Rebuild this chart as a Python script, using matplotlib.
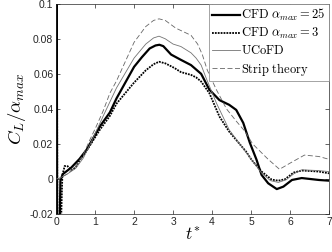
import matplotlib
matplotlib.use("Agg")
import matplotlib.pyplot as plt
from matplotlib.ticker import FuncFormatter

plt.rcParams['mathtext.fontset'] = 'cm'
plt.rcParams['font.family'] = ['Liberation Sans', 'DejaVu Sans']
plt.rcParams['axes.unicode_minus'] = False

# CFD alpha_max = 25 (thick solid)
t_cfd25 = [0, 0.005, 0.03, 0.09, 0.11, 0.17, 0.39, 0.6, 0.78, 0.95, 1.12, 1.38, 1.55, 1.8, 2.0,
           2.2, 2.4, 2.55, 2.65, 2.75, 2.95, 3.2, 3.46, 3.72, 3.93, 4.19, 4.44, 4.62, 4.8, 4.97,
           5.14, 5.27, 5.44, 5.66, 5.83, 6.05, 6.3, 6.74, 7.0]
cl_cfd25 = [0, 0.3, -0.1, -0.03, -0.001, 0.0027, 0.0065, 0.0114, 0.0166, 0.0232, 0.0299, 0.038,
            0.046, 0.056, 0.064, 0.0695, 0.0745, 0.0762, 0.0766, 0.0758, 0.071, 0.068, 0.065,
            0.060, 0.051, 0.045, 0.0423, 0.0394, 0.032, 0.0206, 0.011, 0.0023, -0.0025, -0.0058,
            -0.0044, -0.0006, 0.0005, -0.0006, -0.001]

# CFD alpha_max = 3 (dotted)
t_cfd3 = [0, 0.01, 0.04, 0.12, 0.16, 0.22, 0.3, 0.39, 0.5, 0.6, 0.78, 0.95, 1.12, 1.38, 1.55,
          2.0, 2.3, 2.5, 2.64, 2.8, 3.03, 3.2, 3.46, 3.59, 3.72, 3.93, 4.19, 4.44, 4.88, 5.01,
          5.27, 5.53, 5.7, 5.87, 6.09, 6.3, 6.74, 7.0]
cl_cfd3 = [0, 0.2, -0.1, -0.03, 0.002, 0.0074, 0.0072, 0.005, 0.0065, 0.0105, 0.016, 0.022,
           0.028, 0.036, 0.043, 0.055, 0.062, 0.0655, 0.0669, 0.066, 0.0634, 0.061, 0.0594,
           0.058, 0.0556, 0.049, 0.0356, 0.027, 0.0154, 0.011, 0.0042, -0.0004, -0.001,
           -0.0002, 0.0036, 0.0048, 0.0042, 0.0032]

# UCoFD (thin solid)
t_ucofd = [0, 0.1, 0.3, 0.5, 0.7, 0.9, 1.21, 1.55, 2.0, 2.3, 2.5, 2.64, 2.8, 3.0, 3.2, 3.46,
           3.59, 3.72, 3.85, 4.11, 4.44, 4.88, 5.27, 5.5, 5.7, 5.9, 6.1, 6.3, 6.7, 7.0]
cl_ucofd = [0, 0.0005, 0.003, 0.006, 0.012, 0.021, 0.036, 0.052, 0.069, 0.077, 0.0805, 0.0815,
            0.080, 0.077, 0.0756, 0.072, 0.069, 0.065, 0.0575, 0.0434, 0.028, 0.0149, 0.0034,
            -0.001, -0.002, -0.0005, 0.003, 0.0052, 0.0048, 0.0042]

# Strip theory (dashed)
t_strip = [0, 0.1, 0.3, 0.5, 0.7, 0.86, 1.03, 1.21, 1.38, 1.55, 2.0, 2.3, 2.5, 2.64, 2.8, 3.07,
           3.46, 3.63, 3.75, 3.88, 4.11, 4.37, 4.62, 4.85, 5.04, 5.43, 5.73, 6.0, 6.37, 6.74, 7.0]
cl_strip = [0, 0.0005, 0.003, 0.007, 0.014, 0.022, 0.030, 0.039, 0.049, 0.056, 0.078, 0.087,
            0.0905, 0.0914, 0.0905, 0.0861, 0.082, 0.077, 0.071, 0.062, 0.051, 0.040, 0.033,
            0.027, 0.020, 0.0114, 0.0055, 0.009, 0.0136, 0.0128, 0.0112]

xticks = [0, 1, 2, 3, 4, 5, 6, 7]
yticks = [-0.02, 0, 0.02, 0.04, 0.06, 0.08, 0.1]

fig = plt.figure(figsize=(3.32, 2.52), dpi=100)
ax = fig.add_axes([0.169, 0.151, 0.822, 0.834])

ax.plot(t_cfd25, cl_cfd25, color='k', lw=1.6, label=r'$\mathrm{CFD}\ \alpha_{max} = 25$')
ax.plot(t_cfd3, cl_cfd3, color='k', lw=1.3, ls=(0, (1, 0.6)), label=r'$\mathrm{CFD}\ \alpha_{max} = 3$')
ax.plot(t_ucofd, cl_ucofd, color='0.45', lw=0.6, label=r'$\mathrm{UCoFD}$')
ax.plot(t_strip, cl_strip, color='0.4', lw=0.6, ls=(0, (6, 3)), label=r'$\mathrm{Strip\ theory}$')

ax.set_xlim(0, 7)
ax.set_ylim(-0.02, 0.1)
ax.set_xticks(xticks)
ax.set_yticks(yticks)
ax.yaxis.set_major_formatter(FuncFormatter(lambda v, p: '%g' % round(v, 4)))
ax.tick_params(direction='in', top=True, right=True, length=3, width=0.5,
               labelsize=7.5, colors='0.15', pad=2)
for s in ax.spines.values():
    s.set_linewidth(0.5)
    s.set_color('0.15')

ax.set_xlabel(r'$t^{*}$', fontsize=12.5, labelpad=0)
ax.set_ylabel(r'$C_L/\alpha_{max}$', fontsize=13.5, labelpad=1)

leg = ax.legend(loc='upper right', fontsize=9, borderaxespad=0, fancybox=False,
                framealpha=1, edgecolor='0.5', handlelength=2.2, handletextpad=0.15,
                labelspacing=0.25, borderpad=0.25)
leg.get_frame().set_linewidth(0.5)

fig.savefig('out.png', dpi=100)
